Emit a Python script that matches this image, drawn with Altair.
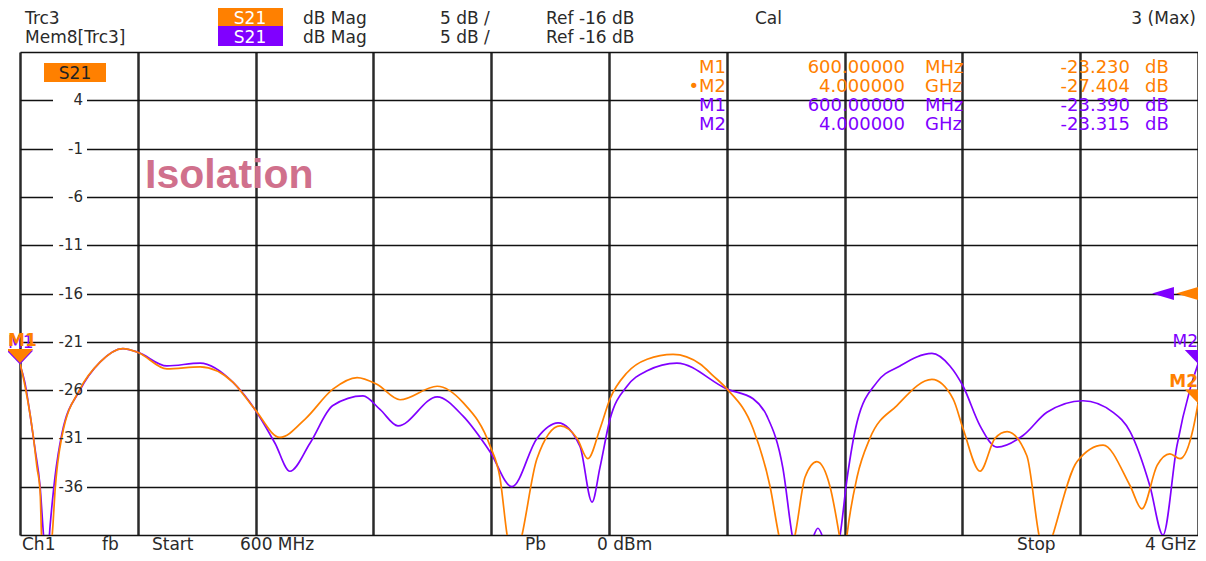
import altair as alt
import pandas as pd

# ---------------- data ----------------
trc3_freq = [600, 614, 629, 638, 649, 658, 663, 675, 695, 701, 721, 773, 831, 897, 941,
             1024, 1120, 1215, 1278, 1350, 1423, 1503, 1573, 1630, 1697, 1804, 1879, 1957,
             1985, 2008, 2029, 2049, 2092, 2159, 2208, 2239, 2274, 2303, 2352, 2410, 2485,
             2563, 2600, 2641, 2716, 2765, 2793, 2814, 2837, 2866, 2900, 2938, 2967, 2978,
             2987, 3016, 3053, 3131, 3232, 3293, 3322, 3371, 3414, 3449, 3506, 3544, 3564,
             3581, 3651, 3726, 3804, 3838, 3882, 3919, 3948, 3986, 4000]
trc3_db = [-23.2, -25.5, -28.5, -30.7, -34.0, -36.5, -42.0, -46.0, -40.0, -36.5, -30.8, -25.9,
           -23.1, -21.7, -22.1, -23.8, -23.6, -25.2, -28.0, -30.9, -29.0, -25.9, -24.7, -25.4,
           -27.0, -25.6, -27.3, -31.8, -35.0, -41.5, -44.0, -41.0, -33.1, -29.7, -31.0, -33.1,
           -30.0, -26.9, -24.2, -22.8, -22.3, -23.3, -24.5, -25.9, -30.0, -36.0, -41.5, -44.0,
           -41.0, -35.0, -33.4, -36.0, -41.5, -44.0, -41.0, -35.0, -31.0, -27.6, -24.9, -26.9,
           -30.0, -34.4, -31.0, -30.3, -32.8, -41.5, -43.0, -41.0, -33.4, -31.7, -35.9, -38.3,
           -33.8, -32.6, -33.1, -30.0, -27.4]

mem8_freq = [600, 614, 629, 643, 658, 669, 678, 687, 701, 721, 773, 831, 897, 941, 1024,
             1120, 1215, 1278, 1336, 1379, 1437, 1503, 1590, 1639, 1691, 1804, 1879, 1957,
             2020, 2092, 2153, 2216, 2251, 2274, 2303, 2352, 2410, 2496, 2641, 2716, 2756,
             2802, 2831, 2851, 2886, 2903, 2920, 2944, 2967, 2987, 3016, 3073, 3140, 3232,
             3284, 3322, 3371, 3420, 3495, 3564, 3668, 3755, 3804, 3861, 3899, 3939, 3977, 4000]
mem8_db = [-23.4, -25.2, -28.5, -32.0, -36.0, -41.5, -44.0, -40.0, -35.0, -30.5, -26.0, -23.1,
           -21.7, -22.1, -23.5, -23.2, -25.2, -28.0, -31.5, -34.4, -31.5, -27.6, -26.6, -28.0,
           -29.7, -26.7, -28.7, -32.4, -36.0, -31.0, -29.4, -31.8, -37.6, -34.0, -29.0, -25.6,
           -24.0, -23.2, -25.9, -26.9, -28.7, -34.1, -41.5, -44.0, -41.5, -40.3, -41.5, -44.0,
           -41.0, -35.2, -29.3, -25.2, -23.5, -22.2, -23.5, -25.6, -29.7, -31.9, -30.7, -28.3,
           -27.1, -28.3, -30.3, -35.9, -41.0, -31.8, -25.9, -23.3]

y_tick_labels = ["4", "-1", "-6", "-11", "-16", "-21", "-26", "-31", "-36"]
x_grid = [600 + 340 * i for i in range(11)]
y_grid = [-41 + 5 * i for i in range(11)]
ref_level = -16

marker_trace = ["Trc3", "Trc3", "Mem8", "Mem8"]
marker_name = ["M1", "M2", "M1", "M2"]
marker_freq = [600, 4000, 600, 4000]
marker_db = [-23.230, -27.404, -23.390, -23.315]
readout_name = ["M1", "\u2022M2", "M1", "M2"]
readout_num = ["600.00000", "4.000000", "600.00000", "4.000000"]
readout_unit = ["MHz", "GHz", "MHz", "GHz"]
readout_val = ["-23.230", "-27.404", "-23.390", "-23.315"]

ORANGE = "#ff8000"
PURPLE = "#8000ff"
TXT = "#2a2a2a"
FONT = "DejaVu Sans"

# ---------------- scales ----------------
xs = alt.Scale(domain=[600, 4000], nice=False, zero=False)
ys = alt.Scale(domain=[-41, 9], nice=False, zero=False)
x_axis = alt.Axis(values=x_grid, grid=True, labels=False, ticks=False, domain=False,
                  title=None, gridColor="#2a2a2a", gridWidth=2.5, gridOpacity=1)
y_axis = alt.Axis(values=y_grid, grid=True, labels=False, ticks=False, domain=False,
                  title=None, gridColor="#111111", gridWidth=1.4, gridOpacity=1)

trc3 = pd.DataFrame({"f": trc3_freq, "db": trc3_db})
mem8 = pd.DataFrame({"f": mem8_freq, "db": mem8_db})

mem_line = alt.Chart(mem8).mark_line(clip=True, interpolate="monotone", color=PURPLE,
                                     strokeWidth=1.7).encode(
    x=alt.X("f:Q", scale=xs, axis=x_axis), y=alt.Y("db:Q", scale=ys, axis=y_axis))
trc_line = alt.Chart(trc3).mark_line(clip=True, interpolate="monotone", color=ORANGE,
                                     strokeWidth=1.7).encode(
    x=alt.X("f:Q", scale=xs), y=alt.Y("db:Q", scale=ys))

# y labels inside the plot with white gaps in the grid
lab = pd.DataFrame({"t": y_tick_labels, "db": [float(v) for v in y_tick_labels]})
lab_gap = alt.Chart(lab).transform_calculate(
    lo="datum.db - 0.35", hi="datum.db + 0.35").mark_rect(color="white").encode(
    x=alt.value(33), x2=alt.value(67), y=alt.Y("hi:Q", scale=ys), y2="lo:Q")
lab_text = alt.Chart(lab).mark_text(align="right", baseline="middle", fontSize=15,
                                    font=FONT, color=TXT).encode(
    x=alt.value(63), y=alt.Y("db:Q", scale=ys), text="t:N")

def txt(s, x, y, align="left", color=TXT, size=17, weight="normal", baseline="alphabetic",
        font=FONT):
    return alt.Chart(pd.DataFrame({"t": [s]})).mark_text(
        align=align, baseline=baseline, fontSize=size, font=font, color=color,
        fontWeight=weight).encode(x=alt.value(x), y=alt.value(y), text="t:N")

def box(x1, x2, y1, y2, color):
    return alt.Chart(pd.DataFrame({"a": [0]})).mark_rect(color=color).encode(
        x=alt.value(x1), x2=alt.value(x2), y=alt.value(y1), y2=alt.value(y2))

header = [
    txt("Trc3", 5, -28),
    box(198, 263, -46, -26, ORANGE), txt("S21", 230, -28, align="center", color="white"),
    txt("dB Mag", 283, -28), txt("5 dB /", 420, -28), txt("Ref -16 dB", 526, -28),
    txt("Cal", 735, -28), txt("3 (Max)", 1176, -28, align="right"),
    txt("Mem8[Trc3]", 5, -9),
    box(198, 263, -26, -6, PURPLE), txt("S21", 230, -9, align="center", color="white"),
    txt("dB Mag", 283, -9), txt("5 dB /", 420, -9), txt("Ref -16 dB", 526, -9),
]
footer = [
    txt("Ch1", 2, 498), txt("fb", 82, 498), txt("Start", 132, 498), txt("600 MHz", 220, 498),
    txt("Pb", 505, 498), txt("0 dBm", 577, 498),
    txt("Stop", 997, 498), txt("4 GHz", 1176, 498, align="right"),
]
inside = [
    box(24, 86, 11, 30, ORANGE), txt("S21", 55, 27, align="center", color="#222", size=17),
    txt("Isolation", 125, 124, color="#d0708c", size=41, weight="bold", baseline="middle",
        font="Liberation Sans"),
]

# marker readouts
ro = pd.DataFrame({"trace": marker_trace, "name": readout_name, "num": readout_num,
                   "unit": readout_unit, "val": readout_val, "row": [0, 1, 2, 3]})
ro_color = alt.Color("trace:N", scale=alt.Scale(domain=["Trc3", "Mem8"],
                                                range=[ORANGE, PURPLE]), legend=None)
readouts = []
for col, xpos, align in [("name", 706, "right"), ("num", 885, "right"), ("unit", 905, "left"),
                         ("val", 1110, "right")]:
    readouts.append(alt.Chart(ro).transform_calculate(py="16 + datum.row * 19").mark_text(
        align=align, baseline="middle", fontSize=18, font=FONT).encode(
        x=alt.value(xpos), y=alt.Y("py:Q", scale=None), text=f"{col}:N", color=ro_color))
readouts.append(alt.Chart(ro).transform_calculate(py="16 + datum.row * 19", u="'dB'").mark_text(
    align="left", baseline="middle", fontSize=18, font=FONT).encode(
    x=alt.value(1125), y=alt.Y("py:Q", scale=None), text="u:N", color=ro_color))

# marker symbols
mk = pd.DataFrame({"trace": marker_trace, "name": marker_name, "f": marker_freq,
                   "db": marker_db})
tri_down = "M-1,-0.55 L1,-0.55 L0,0.5 Z"
tri_left = "M-1,0 L1,-0.6 L1,0.6 Z"
markers = []
for tr, col in [("Mem8", PURPLE), ("Trc3", ORANGE)]:
    d = mk[mk.trace == tr]
    wt = "bold" if tr == "Trc3" else "normal"
    markers.append(alt.Chart(d).mark_point(shape=tri_down, size=700, filled=True, opacity=1,
                                           color=col, yOffset=-7).encode(
        x=alt.X("f:Q", scale=xs), y=alt.Y("db:Q", scale=ys)))
    markers.append(alt.Chart(d[d.f < 4000]).mark_text(
        fontSize=17, font=FONT, color=col, fontWeight=wt, align="left", dx=-12,
        baseline="middle", yOffset=-22).encode(
        x=alt.X("f:Q", scale=xs), y=alt.Y("db:Q", scale=ys), text="name:N"))
    markers.append(alt.Chart(d[d.f >= 4000]).mark_text(
        fontSize=17, font=FONT, color=col, fontWeight=wt, align="right",
        baseline="middle", yOffset=-22).encode(
        x=alt.X("f:Q", scale=xs), y=alt.Y("db:Q", scale=ys), text="name:N"))

ref = pd.DataFrame({"db": [ref_level]})
ref_arrows = [
    alt.Chart(ref).mark_point(shape=tri_left, size=480, filled=True, opacity=1,
                              color=PURPLE).encode(x=alt.value(1143), y=alt.Y("db:Q", scale=ys)),
    alt.Chart(ref).mark_point(shape=tri_left, size=480, filled=True, opacity=1,
                              color=ORANGE).encode(x=alt.value(1167), y=alt.Y("db:Q", scale=ys)),
]

chart = alt.layer(
    lab_gap, mem_line, trc_line, lab_text, *inside, *header, *footer, *readouts,
    *markers, *ref_arrows
).properties(
    width=1178, height=483,
    autosize=alt.AutoSizeParams(type="none"),
    padding={"left": 12, "top": 44, "right": 0, "bottom": 18},
).configure_view(stroke="#2a2a2a", strokeWidth=2).configure(background="white")

chart.save("out.html", embed_options={"renderer": "svg", "actions": False})
